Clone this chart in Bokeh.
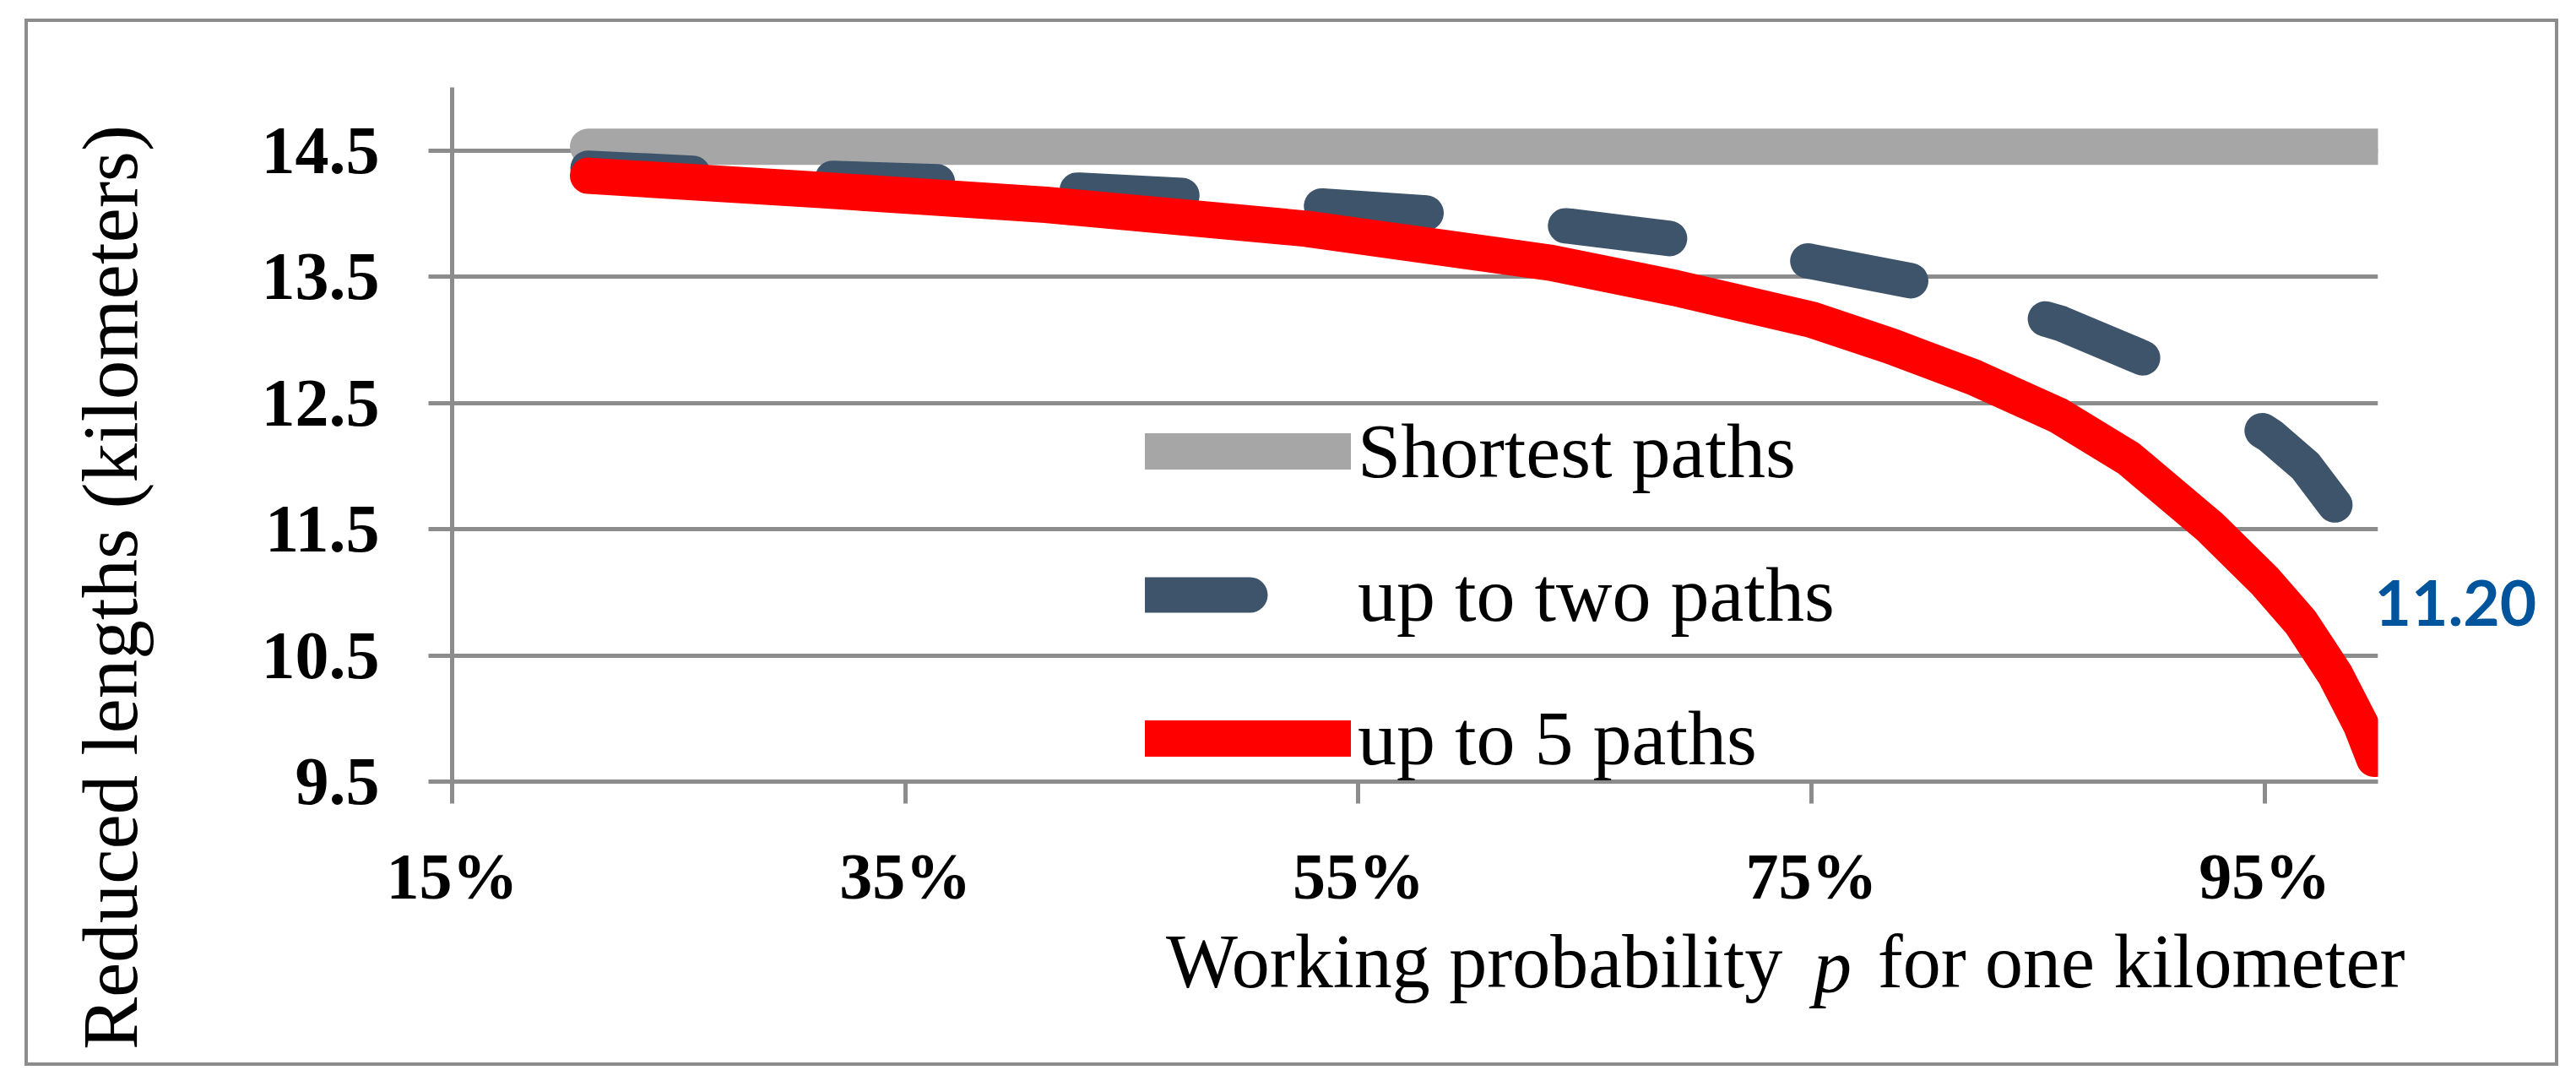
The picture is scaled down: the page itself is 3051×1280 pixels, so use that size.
from math import pi
from bokeh.plotting import figure
from bokeh.models import Range1d, FixedTicker, Label, Legend, LegendItem
from bokeh.embed import file_html
from bokeh.resources import INLINE

# ---------------- data ----------------
x_ticks = [15, 35, 55, 75, 95]
x_tick_labels = ["15%", "35%", "55%", "75%", "95%"]
y_ticks = [9.5, 10.5, 11.5, 12.5, 13.5, 14.5]
y_tick_labels = ["9.5", "10.5", "11.5", "12.5", "13.5", "14.5"]

shortest_x = [21, 100]
shortest_y = [14.53, 14.53]

two_x = [21, 25.6, 31.7, 36.7, 42.7, 47.7, 53.4, 58.4, 64.35, 69.3, 75.0, 79.9,
         86.0, 90.1, 95.25, 96.8, 98.4, 100]
two_y = [14.36, 14.32, 14.28, 14.25, 14.185, 14.14, 14.06, 14.0, 13.9, 13.79, 13.62, 13.45,
         13.13, 12.82, 12.24, 12.0, 11.62, 11.20]

five_x = [21, 31, 41.2, 52.7, 63.5, 69, 75.0, 78.5, 82.2, 85.9, 89.0, 92.57, 95.0, 96.6,
          98.1, 99.25, 99.84]
five_y = [14.30, 14.19, 14.07, 13.88, 13.61, 13.41, 13.16, 12.95, 12.70, 12.40, 12.06, 11.52,
          11.09, 10.76, 10.35, 9.95, 9.68]

series_names = ["Shortest paths", "up to two paths", "up to 5 paths"]
x_title = ["Working probability", "p", "for one kilometer"]
y_title = "Reduced lengths (kilometers)"

# ---------------- layout ----------------
CX, CY = 33, 26            # canvas origin on the page (inside the 4px frame)
ML, MT = 502, 77           # frame offset inside canvas
FW, FH = 2281, 822         # frame size
MR, MB = 210, 333
W, H = ML + FW + MR, MT + FH + MB
X0, X1 = 15, 100
Y0, Y1 = 9.5, 15

def px_x(px):  # page pixel -> data x
    return X0 + (px - CX - ML) * (X1 - X0) / FW

def px_y(py):  # page pixel -> data y
    return Y1 - (py - CY - MT) * (Y1 - Y0) / FH

GRID = "#8c8c8c"
SERIF = "Liberation Serif"

p = figure(width=W, height=H, frame_width=FW, frame_height=FH,
           output_backend="svg", toolbar_location=None,
           x_range=Range1d(X0, X1), y_range=Range1d(Y0, Y1),
           min_border_left=ML, min_border_right=MR, min_border_top=MT, min_border_bottom=MB,
           background_fill_color="white", border_fill_color="white")
p.outline_line_color = None
p.styles = {"margin-left": "29px", "margin-top": "22px", "border": "4px solid #8c8c8c"}

# axes
p.xaxis.ticker = FixedTicker(ticks=x_ticks)
p.xaxis.major_label_overrides = dict(zip(x_ticks, x_tick_labels))
p.yaxis.ticker = FixedTicker(ticks=y_ticks)
p.yaxis.major_label_overrides = dict(zip(y_ticks, y_tick_labels))
for ax in (p.xaxis, p.yaxis):
    ax.axis_line_color = GRID
    ax.axis_line_width = 5
    ax.major_tick_line_color = GRID
    ax.major_tick_line_width = 5
    ax.major_tick_in = 0
    ax.minor_tick_line_color = None
    ax.major_label_text_font = SERIF
    ax.major_label_text_font_style = "bold"
    ax.major_label_text_color = "black"
p.xaxis.major_label_text_font_size = "78px"
p.yaxis.major_label_text_font_size = "80px"
p.xaxis.major_tick_out = 26
p.yaxis.major_tick_out = 28
p.xaxis.major_label_standoff = 42
p.yaxis.major_label_standoff = 58

# x axis title: the italic "p" is set separately into the gap
p.xaxis.axis_label = "\u00a0" * 39 + x_title[0] + "\u00a0" * 5 + x_title[2]
p.xaxis.axis_label_text_font = SERIF
p.xaxis.axis_label_text_font_style = "normal"
p.xaxis.axis_label_text_font_size = "90px"
p.xaxis.axis_label_text_color = "black"
p.xaxis.axis_label_standoff = 5

p.xgrid.visible = False
p.ygrid.grid_line_color = GRID
p.ygrid.grid_line_width = 5

# series
r_gray = p.line(shortest_x, shortest_y, line_color="#a6a6a6", line_width=43, line_cap="round")
r_two = p.line(two_x, two_y, line_color="#3d546b", line_width=42, line_cap="round",
               line_join="round", line_dash="124 166")
r_five = p.line(five_x, five_y, line_color="#ff0000", line_width=43, line_cap="round",
                line_join="round")

legend = Legend(items=[LegendItem(label=series_names[0], renderers=[r_gray]),
                       LegendItem(label=series_names[1], renderers=[r_two]),
                       LegendItem(label=series_names[2], renderers=[r_five])],
                location=(821, -4), orientation="vertical",
                glyph_width=244, glyph_height=110, label_height=110, label_standoff=8,
                spacing=60, padding=0, margin=0,
                border_line_alpha=0, background_fill_alpha=0,
                label_text_font=SERIF, label_text_font_size="92px", label_text_color="black")
p.add_layout(legend)

# data label of the last point (right margin)
p.add_layout(Label(x=px_x(2812), y=px_y(713), text=f"{two_y[-1]:.2f}",
                   text_font="Lato", text_font_style="bold", text_font_size="75px",
                   text_color="#00549c", text_align="left", text_baseline="alphabetic"),
             "right")

# y axis title (left margin)
p.add_layout(Label(x=px_x(130), y=px_y(695), text=y_title, angle=pi / 2,
                   text_font=SERIF, text_font_size="93px", text_color="black",
                   text_align="center", text_baseline="alphabetic"), "left")
# italic p of the x title
p.add_layout(Label(x=px_x(2170), y=px_y(1144), text=x_title[1],
                   text_font=SERIF, text_font_style="italic", text_font_size="90px",
                   text_color="black", text_align="center", text_baseline="alphabetic"),
             "left")

open("out.html", "w").write(file_html(p, INLINE, "chart"))
